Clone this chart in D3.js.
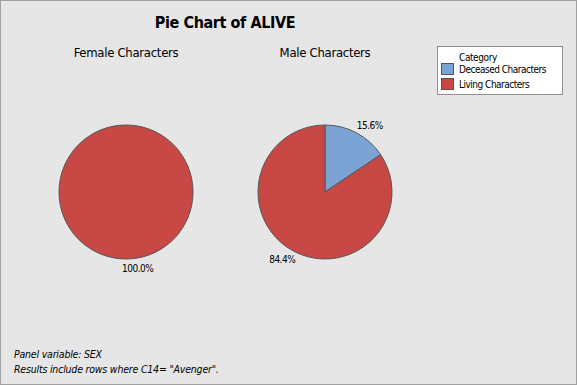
<!DOCTYPE html>
<html>
<head>
<meta charset="utf-8">
<script src="https://cdn.jsdelivr.net/npm/d3@7"></script>
<style>
  body { margin: 0; background: #e6e6e6; }
  text { font-family: "DejaVu Sans Condensed", "Liberation Sans", sans-serif; }
</style>
</head>
<body>
<div id="chart"></div>
<script>
// Données du graphique
const panels = ["Female Characters", "Male Characters"];
const categories = ["Deceased Characters", "Living Characters"];
const femaleValues = [0, 100.0];
const maleValues = [15.6, 84.4];
const colors = ["#7ba3d6", "#c84845"];

const width = 577, height = 385;

const svg = d3.select("#chart")
    .append("svg")
    .attr("width", width)
    .attr("height", height);

// Fond et cadre
svg.append("rect")
    .attr("x", 0.5).attr("y", 0.5)
    .attr("width", width - 1).attr("height", height - 1)
    .attr("fill", "#e6e6e6")
    .attr("stroke", "#a0a0a0");

// Titre
svg.append("text")
    .attr("x", 225).attr("y", 28)
    .attr("text-anchor", "middle")
    .style("font-size", "16px")
    .style("font-weight", "bold")
    .style("letter-spacing", "-0.4px")
    .text("Pie Chart of ALIVE");

const color = d3.scaleOrdinal().domain(categories).range(colors);

// Positions des panneaux
const xPanel = d3.scalePoint().domain(panels).range([126, 325]);
const radius = 67;
const cy = 192;

const pie = d3.pie().sort(null).value(d => d.value);
const arc = d3.arc().innerRadius(0).outerRadius(radius);

const panelData = [femaleValues, maleValues];

panels.forEach(function(p, i) {
    const cx = xPanel(p);
    svg.append("text")
        .attr("x", cx).attr("y", 57)
        .attr("text-anchor", "middle")
        .style("font-size", "13px")
        .style("letter-spacing", "-0.3px")
        .text(p);

    const data = categories.map((c, j) => ({ cat: c, value: panelData[i][j] }));
    const g = svg.append("g").attr("transform", "translate(" + cx + "," + cy + ")");
    const arcs = pie(data).filter(d => d.data.value > 0);

    g.selectAll("path")
        .data(arcs)
      .enter().append("path")
        .attr("d", arc)
        .attr("fill", d => color(d.data.cat))
        .attr("stroke", "#555")
        .attr("stroke-width", 1);

    // Étiquettes de pourcentage
    g.selectAll(".label")
        .data(arcs)
      .enter().append("text")
        .attr("class", "label")
        .each(function(d) {
            const a = (d.startAngle + d.endAngle) / 2;
            const r = radius + 9;
            const x = r * Math.sin(a), y = -r * Math.cos(a);
            d3.select(this)
                .attr("x", Math.sin(a) < -0.01 ? x + 6 : x - 4)
                .attr("y", y + 4)
                .attr("text-anchor", Math.sin(a) < -0.01 ? "end" : "start");
        })
        .style("font-size", "10px")
        .style("letter-spacing", "-0.5px")
        .text(d => d.data.value.toFixed(1) + "%");
});

// Légende
const legend = svg.append("g").attr("transform", "translate(437,46)");
legend.append("rect")
    .attr("x", 0.5).attr("y", 0.5)
    .attr("width", 125).attr("height", 48)
    .attr("fill", "#ffffff")
    .attr("stroke", "#909090");
legend.append("text")
    .attr("x", 22).attr("y", 15)
    .style("font-size", "10px")
    .style("letter-spacing", "-0.4px")
    .text("Category");
categories.forEach(function(c, j) {
    legend.append("rect")
        .attr("x", 4.5).attr("y", 17.5 + j * 15)
        .attr("width", 12).attr("height", 11)
        .attr("fill", color(c))
        .attr("stroke", "#555");
    legend.append("text")
        .attr("x", 22).attr("y", 27 + j * 15)
        .style("font-size", "10px")
        .style("letter-spacing", "-0.5px")
        .text(c);
});

// Notes de bas de page
const notes = ["Panel variable: SEX", "Results include rows where C14= \"Avenger\"."];
notes.forEach(function(n, k) {
    svg.append("text")
        .attr("x", 14).attr("y", 358 + k * 15)
        .style("font-size", "10.5px")
        .style("font-style", "italic")
        .style("letter-spacing", "-0.2px")
        .text(n);
});
</script>
</body>
</html>
